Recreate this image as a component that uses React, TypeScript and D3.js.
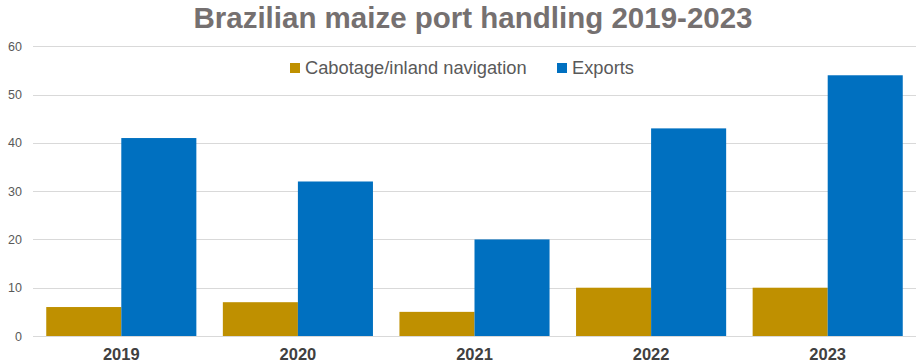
import React, { useRef, useEffect } from 'react';
import * as d3 from 'd3';

const years = ['2019', '2020', '2021', '2022', '2023'];
const cabotage = [6, 7, 5, 10, 10];
const exportsVals = [41, 32, 20, 43, 54];
const seriesNames = ['Cabotage/inland navigation', 'Exports'];
const seriesColors = ['#BF9000', '#0070C0'];
const yTicks = [0, 10, 20, 30, 40, 50, 60];

const W = 919;
const H = 364;

const App = () => {
  const ref = useRef<SVGSVGElement>(null);

  useEffect(() => {
    document.body.style.margin = '0';
    const svg = d3.select(ref.current);
    svg.selectAll('*').remove();

    const left = 33, right = 916, top = 46.3, bottom = 336;
    const font = 'Liberation Sans, Arial, sans-serif';

    const x = d3.scaleBand().domain(years).range([left, right]).paddingInner(0.15).paddingOuter(0.075);
    const x1 = d3.scaleBand().domain(seriesNames).range([0, x.bandwidth()]);
    const y = d3.scaleLinear().domain([0, 60]).range([bottom, top]);

    svg.append('text')
      .attr('x', 473)
      .attr('y', 28)
      .attr('text-anchor', 'middle')
      .attr('font-family', font)
      .attr('font-weight', 'bold')
      .attr('font-size', 29.5)
      .attr('fill', '#757070')
      .text('Brazilian maize port handling 2019-2023');

    const grid = svg.append('g');
    grid.selectAll('line')
      .data(yTicks)
      .enter()
      .append('line')
      .attr('x1', left)
      .attr('x2', right)
      .attr('y1', d => Math.round(y(d)) + 0.5)
      .attr('y2', d => Math.round(y(d)) + 0.5)
      .attr('stroke', '#d9d9d9')
      .attr('stroke-width', 1);

    grid.selectAll('text')
      .data(yTicks)
      .enter()
      .append('text')
      .attr('x', 22)
      .attr('y', d => y(d) + 4.5)
      .attr('text-anchor', 'end')
      .attr('font-family', font)
      .attr('font-size', 12.5)
      .attr('fill', '#595959')
      .text(d => d);

    const rows = years.map((yr, i) => ({ yr, vals: [cabotage[i], exportsVals[i]] }));
    const groups = svg.selectAll('g.grp')
      .data(rows)
      .enter()
      .append('g')
      .attr('class', 'grp')
      .attr('transform', d => `translate(${x(d.yr)},0)`);

    groups.selectAll('rect')
      .data(d => d.vals.map((v, j) => ({ v, j })))
      .enter()
      .append('rect')
      .attr('x', d => x1(seriesNames[d.j]))
      .attr('width', x1.bandwidth())
      .attr('y', d => y(d.v))
      .attr('height', d => y(0) - y(d.v))
      .attr('fill', d => seriesColors[d.j]);

    // category labels, kept just inside the bottom edge
    svg.append('g')
      .selectAll('text')
      .data(years)
      .enter()
      .append('text')
      .attr('x', d => x(d) + x.bandwidth() / 2)
      .attr('y', 360)
      .attr('text-anchor', 'middle')
      .attr('font-family', font)
      .attr('font-weight', 'bold')
      .attr('font-size', 16.5)
      .attr('fill', '#404040')
      .text(d => d);

    // legend
    const legendX = [290, 557];
    const leg = svg.append('g');
    seriesNames.forEach((name, i) => {
      leg.append('rect')
        .attr('x', legendX[i])
        .attr('y', 63)
        .attr('width', 10)
        .attr('height', 10)
        .attr('fill', seriesColors[i]);
      leg.append('text')
        .attr('x', legendX[i] + 15)
        .attr('y', 74)
        .attr('font-family', font)
        .attr('font-size', 18.3)
        .attr('fill', '#595959')
        .text(name);
    });
  }, []);

  return <svg ref={ref} width={W} height={H} style={{ display: 'block' }}></svg>;
};

export default App;
